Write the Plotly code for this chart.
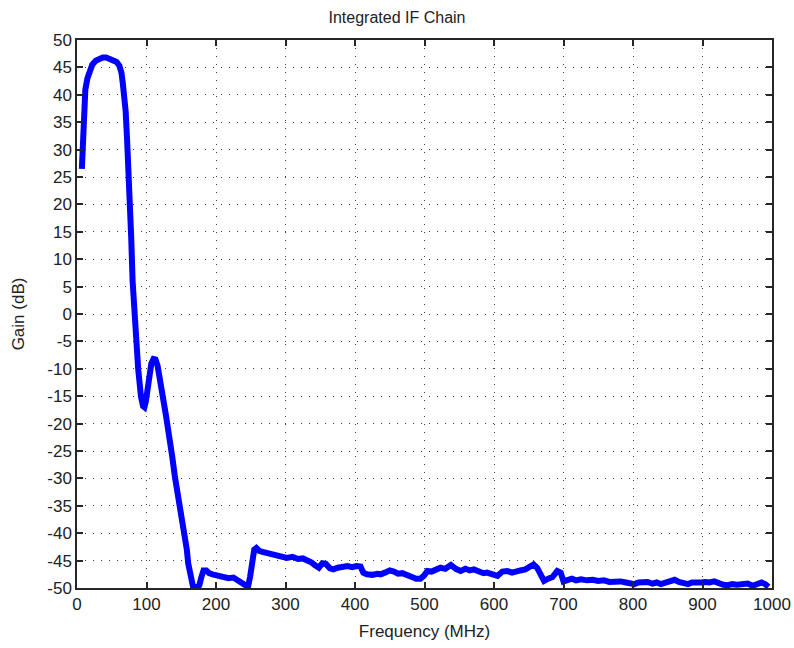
import plotly.graph_objects as go

# Measured gain of the integrated IF chain
freq_mhz = [7, 8, 9, 10, 12, 15, 18, 22, 27, 32, 37, 42, 47, 52, 57, 61, 64, 66, 68, 70,
            72, 74, 76, 78, 80, 82, 84, 86, 88, 90, 92, 95, 97, 99, 101, 104, 107, 110, 113, 116,
            119, 122, 125, 128, 131, 134, 137, 141, 145, 148, 152, 156, 158, 160, 163, 165, 167, 172, 176, 179,
            182, 186, 190, 195, 200, 206, 212, 218, 225, 230, 235, 239, 243, 246, 249, 252, 255, 258, 262, 267,
            273, 280, 287, 295, 302, 310, 318, 325, 331, 337, 342, 348, 353, 358, 364, 369, 375, 382, 389, 396,
            402, 408, 412, 417, 425, 432, 437, 443, 450, 456, 462, 468, 475, 482, 488, 494, 499, 504, 510, 516,
            523, 530, 538, 545, 552, 559, 565, 571, 578, 585, 590, 597, 605, 612, 619, 626, 632, 638, 645, 651,
            657, 662, 667, 672, 678, 684, 691, 696, 700, 706, 712, 718, 725, 734, 742, 750, 758, 766, 774, 782,
            790, 796, 802, 808, 815, 821, 828, 834, 840, 846, 852, 860, 866, 872, 879, 885, 891, 898, 904, 910,
            917, 923, 930, 936, 943, 950, 958, 965, 972, 978, 985, 990, 995]

gain_db = [26.5, 30, 35, 38, 41, 43, 44.5, 45.5, 46.2, 46.6, 46.8, 46.8, 46.6, 46.3, 46.0, 45.3, 44, 42, 40, 37,
           32, 27, 21, 14, 6, 0, -3, -6, -10, -13, -15, -16.8, -17, -16, -14, -11, -9, -8.2, -8.3, -9.5,
           -11.5, -14, -16, -18.5, -21, -23, -26, -29.8, -33, -35.5, -38, -40.5, -43, -45.5, -48, -49.4, -49.8, -49.8, -49.5, -48,
           -46.8, -46.8, -47.3, -47.5, -47.7, -47.8, -48, -48.2, -48.1, -48.5, -49, -49.4, -49.7, -49.8, -48, -45, -43, -42.7, -43.2, -43.4,
           -43.6, -43.8, -44.2, -44.4, -44.5, -44.3, -44.7, -44.6, -44.9, -45.3, -45.8, -46.3, -45.5, -45.6, -46.4, -46.6, -46.3, -46.1, -46.0, -46.2,
           -46.0, -46.1, -47.2, -47.5, -47.6, -47.4, -47.5, -47.2, -46.8, -47.0, -47.4, -47.3, -47.8, -48.0, -48.3, -48.3, -47.8, -46.9, -47.0, -46.8,
           -46.3, -46.5, -45.8, -46.5, -46.9, -46.5, -46.8, -46.6, -47.0, -47.3, -47.2, -47.6, -47.8, -47.0, -46.9, -47.2, -46.9, -46.8, -46.6, -46.0,
           -45.7, -46.3, -47.8, -48.7, -48.3, -48.0, -46.9, -47.2, -48.8, -48.5, -48.3, -48.6, -48.4, -48.6, -48.5, -48.7, -48.6, -48.9, -48.8, -48.8,
           -49.0, -49.2, -49.3, -49.0, -48.9, -48.9, -49.2, -49.0, -49.3, -49.0, -48.7, -48.5, -48.9, -49.1, -49.3, -49.0, -49.1, -49.0, -48.9, -49.0,
           -48.8, -49.2, -49.4, -49.5, -49.3, -49.4, -49.3, -49.2, -49.6, -49.2, -49.0, -49.3, -49.8]

x_ticks = list(range(0, 1001, 100))
y_ticks = list(range(-50, 51, 5))

FONT = "Liberation Sans, Arial, sans-serif"

fig = go.Figure(
    go.Scatter(x=freq_mhz, y=gain_db, mode="lines",
               line=dict(color="#0000ff", width=6), hoverinfo="x+y")
)

axis_common = dict(
    showline=True, linecolor="#262626", linewidth=1.5, mirror="ticks",
    ticks="inside", ticklen=6, tickwidth=1.5, tickcolor="#262626",
    showgrid=True, gridcolor="#404040", gridwidth=1, griddash="1px,7px",
    zeroline=False, automargin=False,
    tickfont=dict(family=FONT, size=17, color="#222222"),
)

fig.update_layout(
    width=794, height=648,
    paper_bgcolor="white", plot_bgcolor="white",
    margin=dict(l=77, r=22, t=40, b=60),
    showlegend=False,
    title=dict(text="Integrated IF Chain", x=0.5, xanchor="center",
               y=1 - 17 / 648, yanchor="middle", yref="container",
               font=dict(family=FONT, size=16, color="#222222")),
    xaxis=dict(range=[0, 1000], tickvals=x_ticks, ticktext=[str(v) for v in x_ticks],
               title=dict(text="Frequency (MHz)", standoff=12,
                          font=dict(family=FONT, size=17, color="#222222")),
               **axis_common),
    yaxis=dict(range=[-50, 50], tickvals=y_ticks, ticktext=[str(v) for v in y_ticks],
               title=dict(text="Gain (dB)", standoff=18,
                          font=dict(family=FONT, size=17, color="#222222")),
               **axis_common),
)

fig.write_html("out.html")
